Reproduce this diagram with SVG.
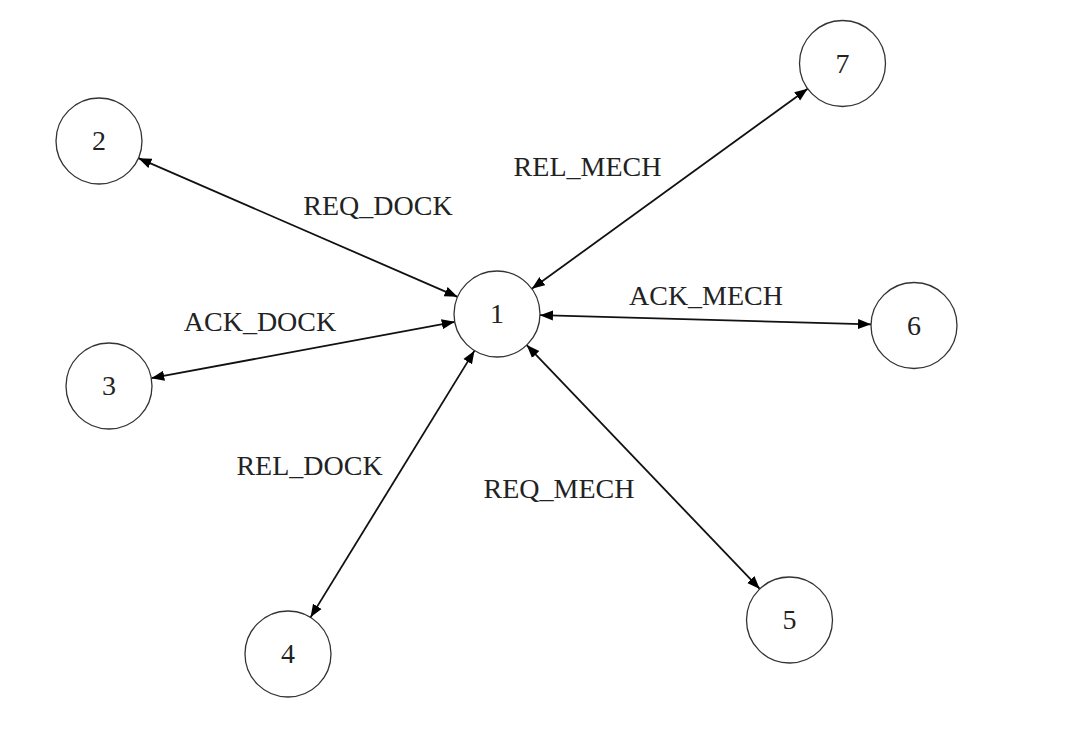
<svg xmlns="http://www.w3.org/2000/svg" width="1067" height="742" viewBox="0 0 1067 742">
<style>
.node circle{fill:#fff;stroke:#333;stroke-width:1.3}
text{font-family:"Liberation Serif","Times New Roman",serif;font-size:28px;fill:#222;text-anchor:middle}
.edges line{stroke:#111;stroke-width:1.8;marker-start:url(#ah);marker-end:url(#ah)}
</style>
<defs>
<marker id="ah" markerUnits="userSpaceOnUse" markerWidth="14" markerHeight="12" refX="13" refY="6" orient="auto-start-reverse">
<path d="M0,1 L13,6 L0,11 z" fill="#000"/>
</marker>
</defs>
<rect width="1067" height="742" fill="#fff"/>
<g id="connectors" class="edges">
<line x1="457.56" y1="296.86" x2="138.44" y2="158.14"/>
<line x1="454.72" y1="321.85" x2="151.28" y2="378.15"/>
<line x1="474.48" y1="350.63" x2="310.52" y2="617.37"/>
<line x1="526.71" y1="345.08" x2="759.79" y2="588.92"/>
<line x1="539.98" y1="315.19" x2="871.02" y2="324.31"/>
<line x1="531.81" y1="288.76" x2="807.69" y2="88.74"/>
</g>
<g id="labels">
<text x="378" y="215">REQ_DOCK</text>
<text x="587.5" y="176">REL_MECH</text>
<text x="706" y="305">ACK_MECH</text>
<text x="260" y="331">ACK_DOCK</text>
<text x="309.5" y="475">REL_DOCK</text>
<text x="559" y="498">REQ_MECH</text>
</g>
<g id="node1" class="node"><circle cx="497" cy="314" r="43"/><text x="497" y="323">1</text></g>
<g id="node2" class="node"><circle cx="99" cy="141" r="43"/><text x="99" y="150">2</text></g>
<g id="node3" class="node"><circle cx="109" cy="386" r="43"/><text x="109" y="395">3</text></g>
<g id="node4" class="node"><circle cx="288" cy="654" r="43"/><text x="288" y="663">4</text></g>
<g id="node5" class="node"><circle cx="789.5" cy="620" r="43"/><text x="789.5" y="629">5</text></g>
<g id="node6" class="node"><circle cx="914" cy="325.5" r="43"/><text x="914" y="334.5">6</text></g>
<g id="node7" class="node"><circle cx="842.5" cy="63.5" r="43"/><text x="842.5" y="72.5">7</text></g>
</svg>
